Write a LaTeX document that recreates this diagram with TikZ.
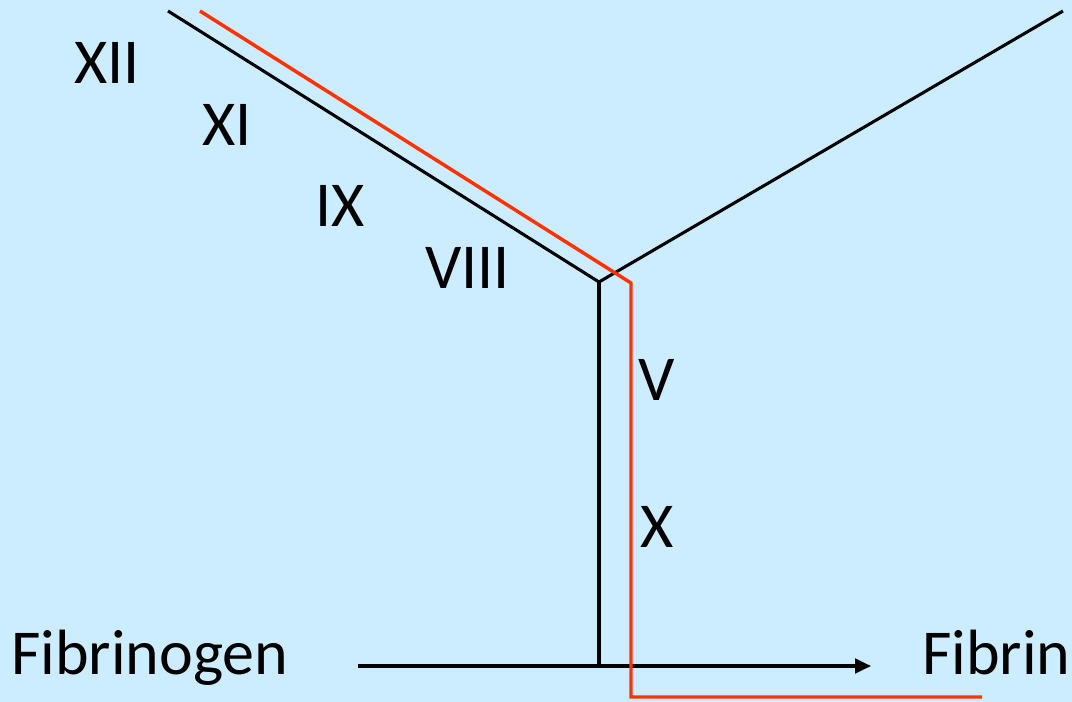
\documentclass[tikz,border=0pt]{standalone}
\usepackage{fontspec}
\setmainfont{Carlito}
\usetikzlibrary{arrows.meta}
\definecolor{bgblue}{RGB}{204,236,255}
\definecolor{pathred}{RGB}{255,51,0}
\begin{document}
\begin{tikzpicture}[x=0.75pt,y=-0.75pt,
  lbl/.style={inner sep=0pt,anchor=base west,font=\fontsize{48}{56}\selectfont},
  blk/.style={draw=black,line width=2.3pt},
  redp/.style={draw=pathred,line width=2.6pt,line join=miter}]
\fill[bgblue] (0,0) rectangle (1072,702);
\useasboundingbox (0,0) rectangle (1072,702);
% coordinates
\coordinate (lt) at (168,11);
\coordinate (rt) at (1063,11);
\coordinate (j) at (599,282);
\coordinate (jb) at (599,666);
\coordinate (as) at (358,666);
\coordinate (ae) at (871,666);
\coordinate (r1) at (200,11);
\coordinate (r2) at (631,283);
\coordinate (r3) at (631,697);
\coordinate (r4) at (982,697);
% black lines
\draw[blk] (lt) -- (j) -- (rt);
\draw[blk] (j) -- (jb);
\draw[blk,-{Triangle[length=12pt,width=11pt]}] (as) -- (ae);
% red path
\draw[redp] (r1) -- (r2) -- (r3) -- (r4);
% labels
\node[lbl] (xii) at (74,84) {XII};
\node[lbl] (xi) at (202,146) {XI};
\node[lbl] (ix) at (315,227) {IX};
\node[lbl] (viii) at (425,289) {VIII};
\node[lbl] (v) at (638,401) {V};
\node[lbl] (x) at (640,547) {X};
\node[lbl] (fg) at (11,674) {Fibrinogen};
\node[lbl] (fb) at (922,674) {Fibrin};
\end{tikzpicture}
\end{document}
